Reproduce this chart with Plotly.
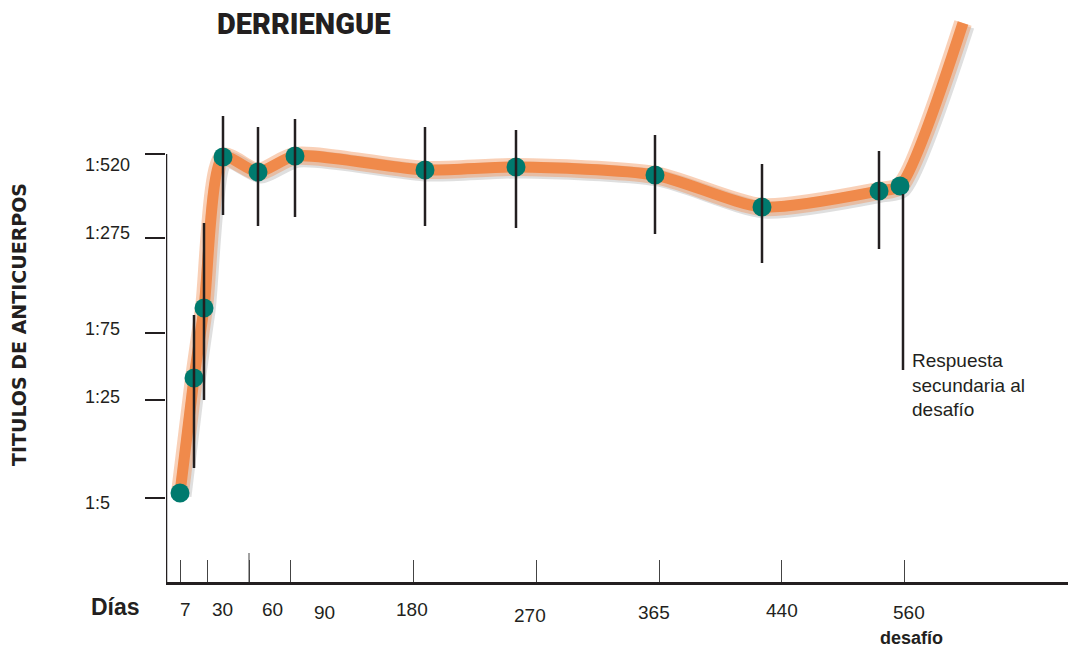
import plotly.graph_objects as go

# ---------------- Datos ----------------
# Eje X (días): posición de cada marca en la escala ilustrada y su etiqueta
dias_etiquetas = ["7", "30", "60", "90", "180", "270", "365", "440", "560"]
dias_pos = [14, 41, 83, 124, 247, 370, 493, 615, 738]

# Eje Y (títulos de anticuerpos)
titulos_etiquetas = ["1:5", "1:25", "1:75", "1:275", "1:520"]
titulos_pos = [84, 182, 249, 344, 428]

# Mediciones (posición en la escala de días, nivel de título)
med_x = [14, 28, 38, 57, 92, 129, 259, 350, 489, 596, 713, 734]
med_y = [89, 204, 274, 425, 410, 426, 412, 415, 407, 375, 391, 396]
err_sup = [None, 267, 359, 466, 455, 463, 455, 452, 447, 418, 431, None]
err_inf = [None, 114, 182, 367, 356, 365, 356, 354, 348, 319, 333, None]

# Respuesta secundaria tras el desafío (final de la curva)
resp_x = [797]
resp_y = [559]

# ---------------- Estilos ----------------
NARANJA = "#F08A4B"
TEAL = "#007A6E"
NEGRO = "#231F20"
FONT = "Liberation Sans, Arial, Helvetica, sans-serif"

curva_x = med_x + resp_x
curva_y = med_y + resp_y

fig = go.Figure()

# sombra gris de la curva
fig.add_trace(go.Scatter(
    x=[v + 3 for v in curva_x], y=[v - 3 for v in curva_y],
    mode="lines", line=dict(color="rgba(150,150,150,0.30)", width=17,
                            shape="spline", smoothing=0.7),
    hoverinfo="skip", showlegend=False))
# halo naranja
fig.add_trace(go.Scatter(
    x=curva_x, y=curva_y, mode="lines",
    line=dict(color="rgba(240,138,75,0.40)", width=18, shape="spline", smoothing=0.7),
    hoverinfo="skip", showlegend=False))
# núcleo naranja
fig.add_trace(go.Scatter(
    x=curva_x, y=curva_y, mode="lines",
    line=dict(color=NARANJA, width=11, shape="spline", smoothing=0.7),
    hoverinfo="skip", showlegend=False))

# puntos
fig.add_trace(go.Scatter(
    x=med_x, y=med_y, mode="markers",
    marker=dict(color=TEAL, size=19, line=dict(width=0)),
    showlegend=False))

# barras de error (encima de los puntos)
idx = [i for i, v in enumerate(err_sup) if v is not None]
fig.add_trace(go.Scatter(
    x=[med_x[i] for i in idx], y=[med_y[i] for i in idx], mode="markers",
    marker=dict(size=1, color="rgba(0,0,0,0)"),
    error_y=dict(type="data", symmetric=False,
                 array=[err_sup[i] - med_y[i] for i in idx],
                 arrayminus=[med_y[i] - err_inf[i] for i in idx],
                 color=NEGRO, thickness=2.5, width=0),
    hoverinfo="skip", showlegend=False))

shapes = [
    # eje Y (solo hasta 1:520)
    dict(type="line", xref="x", yref="y", x0=0, x1=0, y0=0, y1=titulos_pos[-1],
         line=dict(color=NEGRO, width=2.5)),
    # marca alta en el eje X
    dict(type="line", xref="x", yref="y", x0=dias_pos[2], x1=dias_pos[2], y0=0, y1=29,
         line=dict(color="#444", width=1)),
    # línea de la respuesta secundaria
    dict(type="line", xref="x", yref="y", x0=med_x[-1] + 3, x1=med_x[-1] + 3,
         y0=med_y[-1] - 8, y1=212, line=dict(color=NEGRO, width=2.5)),
]

annotations = []
# etiquetas del eje X
x_dx = [5, 15, 23, 34, -1, -6, -5, 1, 5]
x_dy = [-27, -27, -27, -30, -27, -33, -30, -28, -30]
for p, t, dx, dy in zip(dias_pos, dias_etiquetas, x_dx, x_dy):
    annotations.append(dict(x=p, y=0, xref="x", yref="paper", text=t, showarrow=False,
                            xanchor="center", yanchor="middle", xshift=dx, yshift=dy,
                            font=dict(family=FONT, size=19, color=NEGRO)))
annotations.append(dict(x=dias_pos[-1], y=0, xref="x", yref="paper", text="<b>desafío</b>",
                        showarrow=False, xanchor="center", yanchor="middle",
                        xshift=7, yshift=-56, font=dict(family=FONT, size=18, color=NEGRO)))
annotations.append(dict(x=0, y=0, xref="x", yref="paper", text="<b>Días</b>",
                        showarrow=False, xanchor="center", yanchor="middle",
                        xshift=-51, yshift=-25, font=dict(family=FONT, size=23, color=NEGRO)))

# etiquetas del eje Y
y_dy = [-5, 3, 4, 5, -11]
for p, t, dy in zip(titulos_pos, titulos_etiquetas, y_dy):
    annotations.append(dict(x=0, y=p, xref="x", yref="y", text=t, showarrow=False,
                            xanchor="left", yanchor="middle", xshift=-83, yshift=dy,
                            font=dict(family=FONT, size=18, color=NEGRO)))

# título del eje Y
annotations.append(dict(x=0, y=257, xref="x", yref="y",
                        text="<b>TITULOS DE ANTICUERPOS</b>", textangle=-90,
                        showarrow=False, xanchor="center", yanchor="middle",
                        xshift=-147,
                        font=dict(family="DejaVu Sans, sans-serif", size=19, color=NEGRO)))

# texto de la respuesta secundaria
annotations.append(dict(x=med_x[-1] + 10, y=234, xref="x", yref="y",
                        text="Respuesta<br>secundaria al<br>desafío", showarrow=False,
                        xanchor="left", yanchor="top", align="left",
                        font=dict(family=FONT, size=19, color=NEGRO)))

# título
annotations.append(dict(x=137, y=558, xref="x", yref="y", text="DERRIENGUE",
                        showarrow=False, xanchor="center", yanchor="middle",
                        font=dict(family="Roboto, Liberation Sans, sans-serif",
                                  size=29, weight=900, color=NEGRO)))

# la página añade 8 px de margen: se compensa en el tamaño de la figura
fig.update_layout(
    width=1068, height=639,
    margin=dict(l=158, r=0, t=0, b=65),
    paper_bgcolor="white", plot_bgcolor="white",
    xaxis=dict(range=[0, 910], showgrid=False, zeroline=False, tickvals=dias_pos,
               ticks="inside", ticklen=22, tickwidth=1, tickcolor="#444",
               showticklabels=False, showline=True, linewidth=3, linecolor=NEGRO,
               fixedrange=True),
    yaxis=dict(range=[0, 574], showgrid=False, zeroline=False, tickvals=titulos_pos,
               ticks="outside", ticklen=20, tickwidth=1.5, tickcolor=NEGRO,
               showticklabels=False, showline=False, fixedrange=True),
    shapes=shapes, annotations=annotations, showlegend=False,
)

fig.write_html("out.html")
